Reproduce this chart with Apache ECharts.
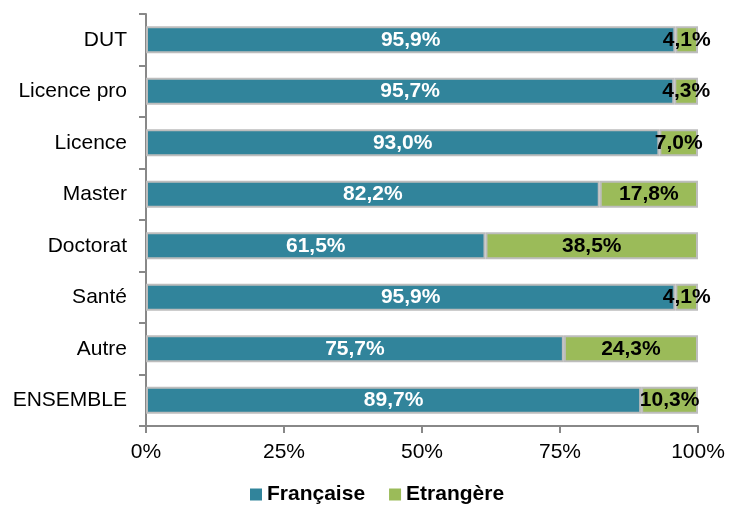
<!DOCTYPE html>
<html>
<head>
<meta charset="utf-8">
<script src="https://cdn.jsdelivr.net/npm/echarts@6/dist/echarts.min.js"></script>
<style>
  html, body { margin: 0; padding: 0; background: #fff; }
  #chart { width: 729px; height: 505px; }
</style>
</head>
<body>
<div id="chart"></div>
<script>
// Diplômes préparés : part d'étudiants de nationalité française / étrangère
const categories = ['DUT', 'Licence pro', 'Licence', 'Master', 'Doctorat', 'Santé', 'Autre', 'ENSEMBLE'];
const francaise = [95.9, 95.7, 93.0, 82.2, 61.5, 95.9, 75.7, 89.7];
const etrangere = [4.1, 4.3, 7.0, 17.8, 38.5, 4.1, 24.3, 10.3];
const xTicks = [0, 25, 50, 75, 100];

const FONT = '"Liberation Sans", Arial, sans-serif';
const fmt = v => v.toFixed(1).replace('.', ',') + '%';

const chart = echarts.init(document.getElementById('chart'), null, { renderer: 'canvas' });
chart.setOption({
  animation: false,
  textStyle: { fontFamily: FONT },
  grid: { left: 146, right: 31, top: 14, bottom: 79, containLabel: false },
  legend: {
    top: 484,
    left: 250,
    padding: 0,
    itemWidth: 12,
    itemHeight: 12,
    itemGap: 24,
    icon: 'rect',
    itemStyle: { borderWidth: 0 },
    textStyle: { fontFamily: FONT, fontSize: 21, fontWeight: 'bold', color: '#000' },
    data: ['Française', 'Etrangère']
  },
  xAxis: {
    type: 'value',
    min: xTicks[0],
    max: xTicks[xTicks.length - 1],
    interval: 25,
    axisLine: { show: true, lineStyle: { color: '#888', width: 2 } },
    axisTick: { show: true, length: 7, lineStyle: { color: '#888', width: 2 } },
    splitLine: { show: false },
    axisLabel: {
      fontFamily: FONT, fontSize: 21, color: '#000', margin: 16,
      formatter: v => v + '%'
    }
  },
  yAxis: {
    type: 'category',
    data: categories,
    inverse: true,
    axisLine: { show: true, lineStyle: { color: '#888', width: 2 } },
    axisTick: { show: true, length: 7, lineStyle: { color: '#888', width: 2 } },
    axisLabel: { fontFamily: FONT, fontSize: 21, color: '#000', margin: 19 }
  },
  series: [
    {
      name: 'Française',
      type: 'bar',
      stack: 'total',
      barWidth: 27,
      data: francaise,
      itemStyle: { color: '#31849B', borderColor: '#BDBDBD', borderWidth: 2 },
      label: {
        show: true, position: 'inside',
        fontFamily: FONT, fontSize: 21, fontWeight: 'bold', color: '#fff',
        formatter: p => fmt(p.value)
      }
    },
    {
      name: 'Etrangère',
      type: 'bar',
      stack: 'total',
      barWidth: 27,
      data: etrangere,
      itemStyle: { color: '#9BBB59', borderColor: '#BDBDBD', borderWidth: 2 },
      label: {
        show: true, position: 'inside',
        fontFamily: FONT, fontSize: 21, fontWeight: 'bold', color: '#000',
        formatter: p => fmt(p.value)
      }
    }
  ]
});
</script>
</body>
</html>
